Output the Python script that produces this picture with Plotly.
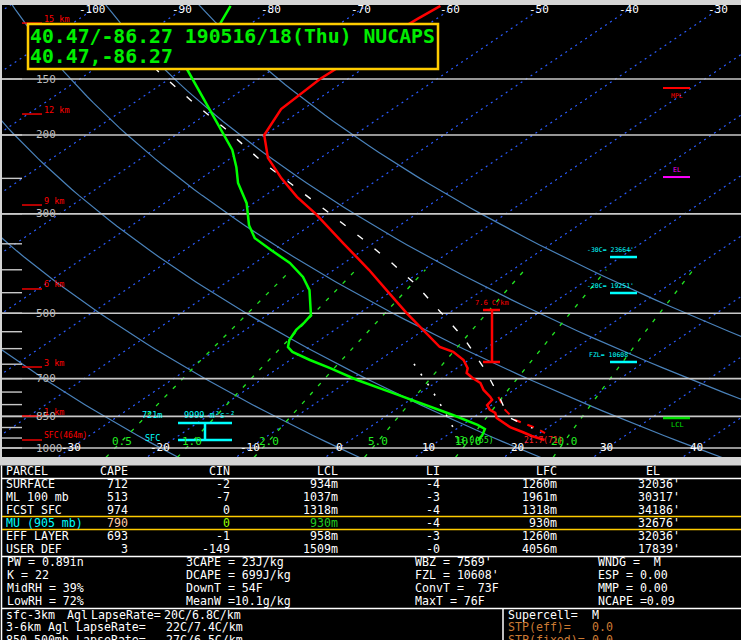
import numpy as np
import plotly.graph_objects as go

W, H = 741, 640
MONO = "DejaVu Sans Mono"
K = 32.14  # skew: degC of x-shift per ln(1000/p)

# ------------------------------------------------------------------ data
TEMP_P = [103, 110, 125, 150, 175, 200, 225, 250, 275, 300, 350, 400, 450, 500, 545, 595,
          610, 636, 663, 680, 698, 716, 742, 769, 781, 802, 822, 835, 857, 898, 921, 940, 960]
TEMP_C = [-61.7, -62.1, -62.7, -63.1, -62.5, -60.1, -55.9, -51.0, -46.2, -41.3, -33.2, -26.1,
          -20.1, -14.7, -10.1, -5.4, -3.1, -0.6, 1.2, 1.9, 3.4, 5.1, 6.6, 8.5, 9.2, 9.5, 10.6,
          11.7, 12.7, 15.7, 17.9, 19.6, 21.7]
DWPT_P = [103, 113, 143, 179, 198, 216, 236, 256, 284, 318, 340, 361, 386, 415, 444, 467,
          505, 525, 545, 574, 595, 610, 636, 663, 705, 754, 802, 844, 888, 907, 935, 955, 960]
DWPT_C = [-85.2, -83.4, -79.5, -69.5, -65.0, -61.2, -57.9, -55.1, -50.8, -46.9, -44.1, -40.4,
          -36.1, -32.3, -29.4, -27.7, -25.1, -24.6, -24.3, -23.4, -22.4, -21.1, -17.8, -14.2,
          -9.2, -3.0, 2.7, 7.3, 11.7, 13.2, 13.9, 14.3, 14.3]
PARCEL_P = [130, 145, 169, 194, 230, 260, 293, 338, 386, 430, 477, 526, 568, 620, 670, 716,
            765, 814, 857, 893, 903]
PARCEL_C = [-88.0, -82.2, -73.5, -65.4, -55.8, -48.3, -41.1, -32.5, -24.7, -18.6, -13.2, -8.2,
            -4.2, -0.1, 3.5, 6.4, 9.3, 11.9, 14.2, 17.4, 18.4]
DCAPE_P = [649, 694, 742, 818, 898, 945]
DCAPE_C = [-5.5, -2.3, 0.8, 5.2, 9.3, 11.3]
VIRT_P = [769, 822, 866, 902, 926]
VIRT_C = [9.4, 12.3, 15.1, 18.7, 20.6]

ISOTHERMS = list(range(-160, 60, 10))
DRY_ADIABATS = [-20, 0, 20, 40, 60, 80]          # theta in degC
MIXING_RATIOS = [0.5, 1.0, 2.0, 5.0, 10.0, 20.0]
MIXING_LABELS = ["0.5", "1.0", "2.0", "5.0", "10.0", "20.0"]
PRESSURE_LINES = [150, 200, 300, 500, 700, 850, 1000]
PRESSURE_TICKS = list(range(100, 1001, 50))
TOP_T_LABELS = [-100, -90, -80, -70, -60, -50, -40, -30]
BOTTOM_T_LABELS = [-30, -20, -10, 0, 10, 20, 30, 40]
HEIGHT_LABELS = ["15 km", "12 km", "9 km", "6 km", "3 km", "1 km", "SFC(464m)"]
HEIGHT_P = [112.5, 179.6, 286.7, 441.5, 659.4, 848.3, 959.7]
LEVEL_LABELS = ["-30C= 23664'", "-20C= 19251'", "FZL= 10608'"]
LEVEL_P = [374.6, 450.7, 642.6]
MPL_P, EL_P, LCL_P = 157.1, 248.3, 857.1
LAPSE_P = [491.9, 642.6]
LAPSE_TXT = "7.6 C/km"
EFF_P = [879.4, 959.7]
SFC_T_TXT, SFC_TD_TXT = "21.7(71)", "13.0(55)"

TITLE1 = "40.47/-86.27 190516/18(Thu) NUCAPS"
TITLE2 = "40.47,-86.27"

PARCELS = ["SURFACE", "ML 100 mb", "FCST SFC", "MU (905 mb)", "EFF LAYER", "USER DEF"]
CAPE = [712, 513, 974, 790, 693, 3]
CIN = [-2, -7, 0, 0, -1, -149]
LCL = [934, 1037, 1318, 930, 958, 1509]
LI = ["-4", "-3", "-4", "-4", "-3", "-0"]
LFC = [1260, 1961, 1318, 930, 1260, 4056]
EL = [32036, 30317, 34186, 32676, 32036, 17839]

IDX_COL1 = ["PW = 0.89in", "K = 22", "MidRH = 39%", "LowRH = 72%"]
IDX_COL2 = ["3CAPE = 23J/kg", "DCAPE = 699J/kg", "DownT = 54F", "MeanW =10.1g/kg"]
IDX_COL3 = ["WBZ = 7569'", "FZL = 10608'", "ConvT =  73F", "MaxT = 76F"]
IDX_COL4 = ["WNDG =  M", "ESP = 0.00", "MMP = 0.00", "NCAPE =0.09"]
LAPSE_ROWS = [("sfc-3km", "Agl", "LapseRate=", "20C/6.8C/km"),
              ("3-6km", "Agl", "LapseRate=", "22C/7.4C/km"),
              ("850-500mb", "", "LapseRate=", "27C/6.5C/km")]
SC_ROWS = [("Supercell=", "M", "white"), ("STP(eff)=", "0.0", "#cc7a33"),
           ("STP(fixed)=", "0.0", "#cc7a33")]

# ------------------------------------------------------------------ geometry helpers
X0PX, PXDEG = 339.0, 8.93      # pixel of 0C at 1000 hPa, pixels per degC
Y1000, PXLN = 448.0, 194.5     # pixel row of 1000 hPa, pixels per ln(p)


def xd(px):
    return (px - X0PX) / PXDEG


def pr(py):
    return 1000.0 * np.exp(-(Y1000 - py) / PXLN)


def skx(t, p):
    return np.asarray(t, float) + K * np.log(1000.0 / np.asarray(p, float))


fig = go.Figure()


def line(x, y, color, width, dash=None):
    fig.add_trace(go.Scatter(x=list(x), y=list(y), mode="lines",
                             line=dict(color=color, width=width, dash=dash),
                             hoverinfo="skip", showlegend=False, connectgaps=False))


def multiline(xs_list, ys_list, color, width, dash=None):
    X, Y = [], []
    for a, b in zip(xs_list, ys_list):
        X += list(a) + [None]
        Y += list(b) + [None]
    line(X, Y, color, width, dash)


XL, XR = xd(2), xd(741)

# isotherms
pe = np.array([1100.0, 90.0])
multiline([skx(t, pe) for t in ISOTHERMS], [pe] * len(ISOTHERMS), "#2b5cff", 1.2, "2px,4px")

# dry adiabats
pp = np.geomspace(1100, 90, 80)
multiline([skx((th + 273.15) * (pp / 1000.0) ** 0.2857 - 273.15, pp) for th in DRY_ADIABATS],
          [pp] * len(DRY_ADIABATS), "#4a82ba", 1.2)

# mixing ratio lines
pm = np.geomspace(1050, 400, 30)


def td_from_w(w, p):
    e = w * p / (622.0 + w)
    a = np.log(e / 6.112)
    return 243.5 * a / (17.67 - a)


multiline([skx(td_from_w(w, pm), pm) for w in MIXING_RATIOS], [pm] * len(MIXING_RATIOS),
          "#22e622", 1.3, "4px,8px")

# pressure lines and ticks
multiline([[XL - 1, XR + 1]] * len(PRESSURE_LINES), [[p, p] for p in PRESSURE_LINES], "#c8c8c8", 1.6)
multiline([[XL, xd(22)]] * len(PRESSURE_TICKS), [[p, p] for p in PRESSURE_TICKS], "#c8c8c8", 1.4)
# height markers
multiline([[xd(22), xd(42)]] * len(HEIGHT_P), [[p, p] for p in HEIGHT_P], "#ff0000", 1.4)

# profiles
line(skx(DCAPE_C, DCAPE_P), DCAPE_P, "white", 1.6, "2px,10px")
line(skx(VIRT_C, VIRT_P), VIRT_P, "#ff0000", 2, "7px,7px")
line(skx(PARCEL_C, PARCEL_P), PARCEL_P, "white", 1.4, "7px,15px")
line(skx(TEMP_C, TEMP_P), TEMP_P, "#ff0000", 2.5)
line(skx(DWPT_C, DWPT_P), DWPT_P, "#00ff00", 2.5)

# level markers (horizontal bars at given pressures)
multiline([[xd(610), xd(637)]] * 3, [[p, p] for p in LEVEL_P], "#00ffff", 2.5)
line([xd(663), xd(690)], [MPL_P, MPL_P], "#ff0000", 2)
line([xd(663), xd(690)], [EL_P, EL_P], "#ff00ff", 2)
line([xd(663), xd(690)], [LCL_P, LCL_P], "#00e000", 2.5)
# lapse rate bar
multiline([[xd(483), xd(500)], [xd(483), xd(500)], [xd(492), xd(492)]],
          [[LAPSE_P[0]] * 2, [LAPSE_P[1]] * 2, LAPSE_P], "#ff0000", 2.5)
# effective inflow bar
multiline([[xd(178), xd(232)], [xd(178), xd(232)], [xd(205), xd(205)]],
          [[EFF_P[0]] * 2, [EFF_P[1]] * 2, EFF_P], "#00ffff", 2.5)

ann = []


def dtxt(x, p, s, color, size, anchor="center", yshift=0):
    ann.append(dict(x=x, y=float(np.log10(p)), xref="x", yref="y", text=s, showarrow=False,
                    xanchor=anchor, yanchor="middle", yshift=yshift, borderpad=0,
                    font=dict(family=MONO, size=size, color=color)))


TFS = 11.6


def ptxt(px, py, s, color="white", size=TFS, anchor="left", bold=False):
    ann.append(dict(x=px / W, y=1 - py / H, xref="paper", yref="paper",
                    text=(f"<b>{s}</b>" if bold else s),
                    showarrow=False, xanchor=anchor, yanchor="middle", borderpad=0,
                    font=dict(family=MONO, size=size, color=color)))


P_TOP_LBL = 105.0
for t in TOP_T_LABELS:
    dtxt(float(skx(t, P_TOP_LBL)), P_TOP_LBL, str(t), "white", 11)
for t in BOTTOM_T_LABELS:
    dtxt(float(t), 1000, str(t), "white", 11, yshift=1)
for w, s in zip(MIXING_RATIOS, MIXING_LABELS):
    dtxt(float(skx(td_from_w(w, 965.0), 965.0)), 965, s, "#22ee22", 11)
for p in PRESSURE_LINES:
    dtxt(xd(35), p, str(p), "#bdbdbd", 11, anchor="left")
for s, p in zip(HEIGHT_LABELS, HEIGHT_P):
    dtxt(xd(43), p, s, "#ff0000", 8.5 if "km" in s else 8, anchor="left", yshift=4.5)
for s, p in zip(LEVEL_LABELS, LEVEL_P):
    dtxt(xd(610), p, s, "#00ffff", 6.5, yshift=7)
dtxt(xd(677), MPL_P, "MPL", "#ff0000", 6.5, yshift=-8)
dtxt(xd(677), EL_P, "EL", "#ff00ff", 6.5, yshift=7)
dtxt(xd(677), LCL_P, "LCL", "#00e000", 7, yshift=-7)
dtxt(xd(492), LAPSE_P[0], LAPSE_TXT, "#ff0000", 7, yshift=7)
dtxt(xd(152), EFF_P[0], "721m", "#00ffff", 8.5, yshift=8)
dtxt(xd(209), EFF_P[0], "9999 m²s⁻²", "#00ffff", 8.5, yshift=8)
dtxt(xd(152), EFF_P[1], "SFC", "#00ffff", 8.5, yshift=2)
dtxt(xd(543), 960, SFC_T_TXT, "#ff2020", 8)
dtxt(xd(474), 960, SFC_TD_TXT, "#22ee22", 8)

shapes = []


def pline(x0, y0, x1, y1, color, width=1):
    shapes.append(dict(type="line", xref="paper", yref="paper", x0=x0 / W, y0=1 - y0 / H,
                       x1=x1 / W, y1=1 - y1 / H, line=dict(color=color, width=width), layer="above"))


# title box
shapes.append(dict(type="rect", xref="paper", yref="paper", x0=28 / W, x1=438 / W,
                   y0=1 - 69 / H, y1=1 - 24 / H, fillcolor="black",
                   line=dict(color="#ffcc00", width=2.5), layer="above"))
ptxt(29, 36, TITLE1, "#00ee00", 19.8, bold=True)
ptxt(29, 56, TITLE2, "#00ee00", 19.8, bold=True)

# table background
shapes.append(dict(type="rect", xref="paper", yref="paper", x0=0, x1=1, y0=0, y1=1 - 465.5 / H,
                   fillcolor="black", line=dict(width=0), layer="below"))
pline(1.5, 465.5, 1.5, 640, "white", 1.5)
pline(2, 478.5, 741, 478.5, "white", 1.5)
pline(2, 516.5, 741, 516.5, "#ffcc00", 1.5)
pline(2, 529.5, 741, 529.5, "#ffcc00", 1.5)
pline(2, 556.5, 741, 556.5, "white", 1.5)
pline(2, 608.5, 741, 608.5, "white", 1.5)
pline(503, 608.5, 503, 640, "white", 1.5)

hy = 470.5
ptxt(5, hy, "PARCEL")
ptxt(129, hy, "CAPE", anchor="right")
ptxt(231, hy, "CIN", anchor="right")
ptxt(339, hy, "LCL", anchor="right")
ptxt(441, hy, "LI", anchor="right")
ptxt(558, hy, "LFC", anchor="right")
ptxt(661, hy, "EL", anchor="right")
for i, name in enumerate(PARCELS):
    y = 484 + 12.9 * i
    mu = name.startswith("MU")
    ptxt(5, y, name, "#00ffff" if mu else "white")
    ptxt(129, y, str(CAPE[i]), "#ffccaa" if mu else "white", anchor="right")
    ptxt(231, y, str(CIN[i]), "#99ff00" if mu else "white", anchor="right")
    ptxt(339, y, f"{LCL[i]}m", "#22cc22" if mu else "white", anchor="right")
    ptxt(441, y, LI[i], anchor="right")
    ptxt(558, y, f"{LFC[i]}m", anchor="right")
    ptxt(681, y, f"{EL[i]}'", anchor="right")

for i in range(4):
    y = 561.5 + 13 * i
    ptxt(6, y, IDX_COL1[i])
    ptxt(185, y, IDX_COL2[i])
    ptxt(414, y, IDX_COL3[i])
    ptxt(597, y, IDX_COL4[i])

LX = [(5, 66, 90, 163), (5, 47, 75, 165), (5, 0, 75, 165)]
for i, row in enumerate(LAPSE_ROWS):
    y = 614.5 + 12.5 * i
    xs = LX[i]
    ptxt(xs[0], y, row[0])
    if row[1]:
        ptxt(xs[1], y, row[1])
    ptxt(xs[2], y, row[2])
    ptxt(xs[3], y, row[3])
for i, (a, b, c) in enumerate(SC_ROWS):
    y = 614.5 + 12.5 * i
    ptxt(507, y, a, c)
    ptxt(591, y, b, c)

fig.update_layout(
    width=W, height=H, margin=dict(l=0, r=0, t=0, b=0),
    paper_bgcolor="#d4d4d4", plot_bgcolor="black",
    showlegend=False, hovermode=False,
    xaxis=dict(domain=[2 / W, 1], range=[XL, XR], showgrid=False, zeroline=False,
               showticklabels=False, ticks="", showline=False, fixedrange=True),
    yaxis=dict(type="log", domain=[1 - 457 / H, 1 - 5 / H],
               range=[float(np.log10(pr(457))), float(np.log10(pr(5)))],
               showgrid=False, zeroline=False, showticklabels=False, ticks="",
               showline=False, fixedrange=True),
    annotations=ann, shapes=shapes,
)

fig.write_html("out.html", config={"displayModeBar": False},
               post_script="document.body.style.margin='0';document.body.style.overflow='hidden';")
